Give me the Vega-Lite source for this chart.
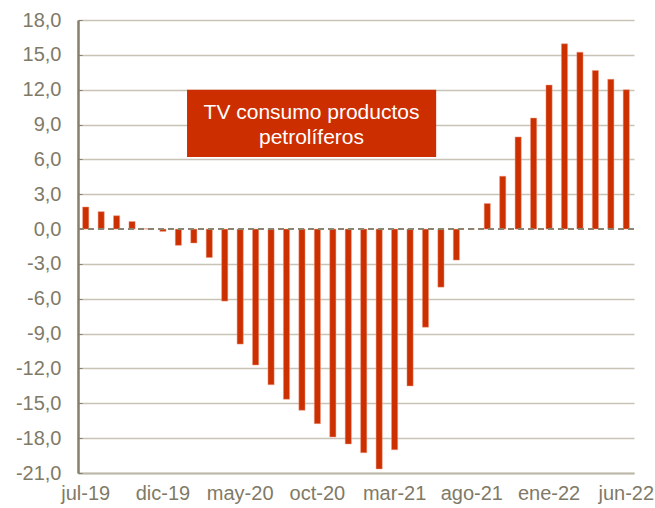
{
  "$schema": "https://vega.github.io/schema/vega-lite/v6.json",
  "width": 556,
  "height": 453,
  "autosize": {"type": "none"},
  "padding": {"left": 78, "top": 20, "right": 21, "bottom": 35},
  "background": "white",
  "config": {
    "view": {"stroke": null},
    "font": "Liberation Sans"
  },
  "datasets": {
    "tv": [
      {"mes": "jul-19", "tv": 1.9},
      {"mes": "ago-19", "tv": 1.5},
      {"mes": "sep-19", "tv": 1.15},
      {"mes": "oct-19", "tv": 0.65},
      {"mes": "nov-19", "tv": 0.03},
      {"mes": "dic-19", "tv": -0.2},
      {"mes": "ene-20", "tv": -1.4},
      {"mes": "feb-20", "tv": -1.2},
      {"mes": "mar-20", "tv": -2.45},
      {"mes": "abr-20", "tv": -6.2},
      {"mes": "may-20", "tv": -9.9},
      {"mes": "jun-20", "tv": -11.7},
      {"mes": "jul-20", "tv": -13.4},
      {"mes": "ago-20", "tv": -14.65},
      {"mes": "sep-20", "tv": -15.6},
      {"mes": "oct-20", "tv": -16.75},
      {"mes": "nov-20", "tv": -17.9},
      {"mes": "dic-20", "tv": -18.5},
      {"mes": "ene-21", "tv": -19.25},
      {"mes": "feb-21", "tv": -20.65},
      {"mes": "mar-21", "tv": -19.0},
      {"mes": "abr-21", "tv": -13.5},
      {"mes": "may-21", "tv": -8.45},
      {"mes": "jun-21", "tv": -5.0},
      {"mes": "jul-21", "tv": -2.67},
      {"mes": "ago-21", "tv": 0.0},
      {"mes": "sep-21", "tv": 2.2},
      {"mes": "oct-21", "tv": 4.55},
      {"mes": "nov-21", "tv": 7.93},
      {"mes": "dic-21", "tv": 9.56},
      {"mes": "ene-22", "tv": 12.4},
      {"mes": "feb-22", "tv": 15.95},
      {"mes": "mar-22", "tv": 15.23},
      {"mes": "abr-22", "tv": 13.66},
      {"mes": "may-22", "tv": 12.9},
      {"mes": "jun-22", "tv": 12.0}
    ],
    "box": [
      {"x1": "feb-20", "x2": "jun-21", "y1": 12.0, "y2": 6.2}
    ],
    "labels": [
      {"mes": "oct-20", "y": 9.5, "txt": "TV consumo productos"},
      {"mes": "oct-20", "y": 7.35, "txt": "petrolíferos"}
    ],
    "zero": [{"v": 0}]
  },
  "layer": [
    {
      "data": {"name": "tv"},
      "mark": {"type": "bar", "color": "#cc3000", "stroke": "#ee9a80", "strokeWidth": 0.6, "strokeOpacity": 0.8, "width": {"band": 0.4}},
      "encoding": {
        "x": {
          "field": "mes", "type": "ordinal", "sort": null,
          "scale": {"paddingInner": 0, "paddingOuter": 0},
          "axis": {
            "title": null,
            "values": ["jul-19", "dic-19", "may-20", "oct-20", "mar-21", "ago-21", "ene-22", "jun-22"],
            "labelAngle": 0,
            "labelFontSize": 20,
            "labelColor": "#7f7a67",
            "labelPadding": 10,
            "labelOverlap": false,
            "ticks": false,
            "domainColor": "#bdb8aa",
            "domainWidth": 2,
            "grid": false
          }
        },
        "y": {
          "field": "tv", "type": "quantitative",
          "scale": {"domain": [-21, 18], "nice": false, "zero": false},
          "axis": {
            "title": null,
            "values": [-21, -18, -15, -12, -9, -6, -3, 0, 3, 6, 9, 12, 15, 18],
            "tickCount": 30,
            "labelExpr": "replace(replace(format(datum.value, '.1f'), '.', ','), '\u2212', '-')",
            "labelFontSize": 20,
            "labelColor": "#7f7a67",
            "labelPadding": 21,
            "labelOverlap": false,
            "tickSize": -4,
            "tickColor": "#857f6b",
            "domainColor": "#857f6b",
            "domainWidth": 2.5,
            "grid": true,
            "gridColor": {"condition": {"test": "datum.value === 0", "value": "white"}, "value": "#c8c3b5"},
            "gridWidth": 1.6
          }
        }
      }
    },
    {
      "data": {"name": "zero"},
      "mark": {"type": "rule", "color": "#8a8470", "strokeWidth": 2, "strokeDash": [6, 4]},
      "encoding": {
        "y": {"field": "v", "type": "quantitative"}
      }
    },
    {
      "data": {"name": "box"},
      "mark": {"type": "rect", "color": "#cc2e00"},
      "encoding": {
        "x": {"field": "x1", "type": "ordinal", "sort": null, "bandPosition": 0.06},
        "x2": {"field": "x2", "bandPosition": 0.19},
        "y": {"field": "y1", "type": "quantitative"},
        "y2": {"field": "y2"}
      }
    },
    {
      "data": {"name": "labels"},
      "mark": {"type": "text", "color": "white", "fontSize": 21, "align": "center", "baseline": "alphabetic", "font": "Liberation Sans"},
      "encoding": {
        "x": {"field": "mes", "type": "ordinal", "sort": null, "bandPosition": 0.12},
        "y": {"field": "y", "type": "quantitative"},
        "text": {"field": "txt"}
      }
    }
  ]
}
